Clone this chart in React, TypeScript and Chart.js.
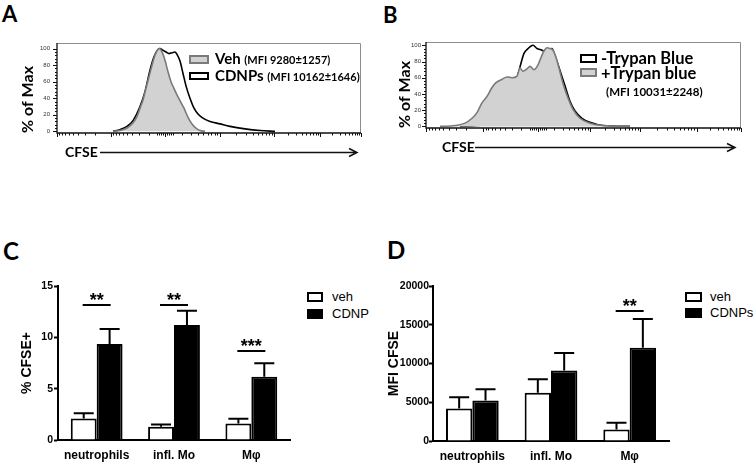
import React, { useEffect, useRef } from "react";
import { Chart, registerables } from "chart.js";
Chart.register(...registerables);

// ---------------- Panel A : CFSE histogram (x = channel from axis start) ----------------
const aVehX = [56, 63, 70, 76, 80, 83, 86, 89, 92, 95, 98, 101, 102.5, 105, 108, 111, 114, 117, 120, 123, 127, 131, 135, 139, 143, 148];
const aVehY = [0, 1, 4, 10, 18, 28, 38, 52, 66, 80, 92, 99, 100, 96, 86, 72, 60, 52, 44, 37, 28, 17, 9, 4, 1, 0];
const aCdnpX = [56, 63, 70, 76, 83, 88, 93, 97, 101, 103, 106, 109, 112, 115, 118, 120, 123, 126, 129, 133, 137, 141, 146, 153, 163, 173, 188, 203, 218];
const aCdnpY = [0, 2, 6, 13, 30, 48, 74, 90, 99, 100, 98, 96, 94, 95, 96, 93, 85, 70, 55, 40, 28, 21, 16, 12, 9, 6, 3, 1, 0];
const aDecades = [0, 54, 108, 163, 217, 263, 304];
const aZeroCluster = [100, 102, 104, 106, 110, 112, 114, 116];

// ---------------- Panel B : Trypan blue quench ----------------
const bPlusX = [14, 29, 39, 46, 51, 56, 61, 66, 70, 76, 81, 86, 91, 94, 97, 101, 104, 108, 112, 115, 118, 121, 124, 127, 130, 133, 137, 142, 147, 154, 164, 177, 204];
const bPlusY = [0, 1, 4, 10, 17, 29, 37, 48, 54, 58, 61, 60, 62, 72, 68, 71, 74, 70, 76, 85, 93, 97, 96, 94, 85, 72, 53, 35, 21, 10, 4, 1, 0];
const bMinusX = [34, 51, 61, 71, 77, 84, 91, 95, 98, 102, 107, 111, 116, 119, 122, 126, 129, 134, 139, 144, 149, 156, 164, 177, 204];
const bMinusY = [0, 1, 4, 15, 27, 44, 60, 78, 90, 96, 100, 96, 94, 92, 94, 96, 87, 69, 50, 31, 19, 10, 5, 1, 0];
const bDecades = [0, 57, 112, 164, 214, 271, 315];
const bZeroCluster = [104, 106, 108, 110, 114, 116, 118, 120];

const histYTicks = [0, 20, 40, 60, 80, 100];

// ---------------- Panel C : % CFSE+ ----------------
const cellTypes = ["neutrophils", "infl. Mo", "M\u03c6"];
const cVeh = [2.1, 1.3, 1.6];
const cVehSem = [0.5, 0.2, 0.48];
const cCdnp = [9.35, 11.2, 6.15];
const cCdnpSem = [1.45, 1.4, 1.33];
const cSigCat = [0, 1, 2];
const cSigY = [13.15, 13.15, 8.7];
const cSigLabel = ["**", "**", "***"];
const cYTicks = [0, 5, 10, 15];

// ---------------- Panel D : MFI CFSE ----------------
const dVeh = [4180, 6210, 1470];
const dVehSem = [1470, 1760, 900];
const dCdnp = [5220, 9100, 12030];
const dCdnpSem = [1460, 2240, 3700];
const dSigCat = [2];
const dSigY = [16810];
const dSigLabel = ["**"];
const dYTicks = [0, 5000, 10000, 15000, 20000];

const HFONT = "Lato, 'Open Sans', sans-serif";
const AFONT = "'Liberation Sans', Arial, sans-serif";

function minorTicks(decades: number[], zeroIdx: number) {
  const out: number[] = [];
  for (let i = 0; i < decades.length - 1; i++) {
    const a = decades[i], b = decades[i + 1];
    for (let k = 2; k <= 9; k++) {
      const f = Math.log10(k);
      out.push(i < zeroIdx ? b - (b - a) * f : a + (b - a) * f);
    }
  }
  return out;
}

type HistProps = {
  left: number; top: number; width: number; height: number;
  yWidth: number; padTop: number; padRight: number; xHeight: number;
  xMax: number; yMax: number;
  fillX: number[]; fillY: number[]; lineX: number[]; lineY: number[];
  decades: number[]; cluster: number[];
  tickPad: number; titlePad: number;
  cfseDx: number; arrowStartDx: number; arrowEndDx: number;
};

function Hist(p: HistProps) {
  const ref = useRef<HTMLCanvasElement>(null);
  useEffect(() => {
    const minors = minorTicks(p.decades, 2).concat(p.cluster);
    const plugin = {
      id: "histDecor",
      afterDraw(chart: any) {
        const { ctx, chartArea } = chart;
        const { left, right, top, bottom } = chartArea;
        const xs = chart.scales.x, ys = chart.scales.y;
        ctx.save();
        ctx.strokeStyle = "#8c8c8c";
        ctx.lineWidth = 1;
        ctx.beginPath();
        ctx.moveTo(left, top + 0.5); ctx.lineTo(right - 0.5, top + 0.5); ctx.lineTo(right - 0.5, bottom);
        ctx.stroke();
        ctx.strokeStyle = "#111";
        ctx.lineWidth = 1.3;
        ctx.beginPath();
        ctx.moveTo(left, top); ctx.lineTo(left, bottom); ctx.lineTo(right, bottom);
        ctx.stroke();
        ctx.lineWidth = 1;
        ctx.beginPath();
        for (let v = 0; v <= 100; v += 4) {
          const y = Math.round(ys.getPixelForValue(v)) + 0.5;
          const len = v % 20 === 0 ? 4 : 2;
          ctx.moveTo(left - len, y); ctx.lineTo(left, y);
        }
        p.decades.forEach((v) => {
          const x = Math.round(xs.getPixelForValue(v)) + 0.5;
          ctx.moveTo(x, bottom); ctx.lineTo(x, bottom + 4);
        });
        minors.forEach((v) => {
          const x = Math.round(xs.getPixelForValue(v)) + 0.5;
          ctx.moveTo(x, bottom); ctx.lineTo(x, bottom + 2.5);
        });
        ctx.stroke();
        // CFSE label with arrow
        const ly = bottom + 19.5;
        ctx.fillStyle = "#000";
        ctx.font = `bold 14px ${HFONT}`;
        ctx.textBaseline = "middle";
        ctx.textAlign = "left";
        ctx.fillText("CFSE", left + p.cfseDx, ly);
        const x1 = left + p.arrowStartDx, x2 = right + p.arrowEndDx;
        ctx.lineWidth = 1.5;
        ctx.beginPath();
        ctx.moveTo(x1, ly); ctx.lineTo(x2, ly);
        ctx.moveTo(x2 - 8, ly - 4); ctx.lineTo(x2, ly); ctx.lineTo(x2 - 8, ly + 4);
        ctx.stroke();
        ctx.restore();
      },
    };
    const chart = new Chart(ref.current!, {
      type: "line",
      data: {
        datasets: [
          {
            data: p.fillX.map((x, i) => ({ x, y: p.fillY[i] })),
            borderColor: "#7a7a7a",
            borderWidth: 1.6,
            backgroundColor: "#d2d2d2",
            fill: "origin",
            pointRadius: 0,
            cubicInterpolationMode: "monotone",
          },
          {
            data: p.lineX.map((x, i) => ({ x, y: p.lineY[i] })),
            borderColor: "#000",
            borderWidth: 1.6,
            fill: false,
            pointRadius: 0,
            cubicInterpolationMode: "monotone",
          },
        ],
      },
      options: {
        animation: false,
        responsive: false,
        layout: { padding: { left: 0, top: p.padTop, right: p.padRight, bottom: 0 } },
        plugins: { legend: { display: false }, tooltip: { enabled: false } },
        scales: {
          x: {
            type: "linear",
            min: 0,
            max: p.xMax,
            ticks: { display: false },
            grid: { display: false, drawTicks: false },
            border: { display: false },
            afterFit: (s: any) => { s.height = p.xHeight; },
          },
          y: {
            min: -2,
            max: p.yMax,
            afterBuildTicks: (s: any) => { s.ticks = histYTicks.map((v) => ({ value: v })); },
            ticks: { font: { size: 6, family: AFONT }, color: "#333", padding: p.tickPad },
            grid: { display: false, drawTicks: false },
            border: { display: false },
            title: {
              display: true,
              text: "% of Max",
              align: "start",
              color: "#000",
              font: { family: HFONT, weight: "bold", size: 16 },
              padding: { top: p.titlePad, bottom: 0 },
            },
            afterFit: (s: any) => { s.width = p.yWidth; },
          },
        },
      },
      plugins: [plugin],
    } as any);
    return () => chart.destroy();
  }, []);
  return (
    <canvas
      ref={ref}
      width={p.width}
      height={p.height}
      style={{ position: "absolute", left: p.left, top: p.top, width: p.width, height: p.height }}
    />
  );
}

type BarProps = {
  left: number; top: number; width: number; height: number;
  yWidth: number; padTop: number; padRight: number; xHeight: number;
  veh: number[]; vehSem: number[]; cdnp: number[]; cdnpSem: number[];
  yTicks: number[]; yTitle: string; titleSize: number; titlePad: number;
  sigCat: number[]; sigY: number[]; sigLabel: string[];
  vehLabel: string; cdnpLabel: string; tickPad: number;
};

function Bars(p: BarProps) {
  const ref = useRef<HTMLCanvasElement>(null);
  useEffect(() => {
    const sems = [p.vehSem, p.cdnpSem];
    const plugin = {
      id: "barExtras",
      afterDatasetsDraw(chart: any) {
        const { ctx } = chart;
        const ys = chart.scales.y, xs = chart.scales.x;
        ctx.save();
        ctx.strokeStyle = "#000";
        ctx.lineWidth = 2;
        chart.data.datasets.forEach((ds: any, di: number) => {
          const meta = chart.getDatasetMeta(di);
          meta.data.forEach((bar: any, i: number) => {
            const topY = ys.getPixelForValue(ds.data[i] + sems[di][i]);
            ctx.beginPath();
            ctx.moveTo(bar.x, bar.y);
            ctx.lineTo(bar.x, topY);
            ctx.moveTo(bar.x - 10, topY);
            ctx.lineTo(bar.x + 10, topY);
            ctx.stroke();
          });
        });
        ctx.fillStyle = "#000";
        ctx.font = `bold 18px ${AFONT}`;
        ctx.textAlign = "center";
        ctx.textBaseline = "alphabetic";
        p.sigCat.forEach((c, k) => {
          const cx = xs.getPixelForValue(c);
          const ly = Math.round(ys.getPixelForValue(p.sigY[k]));
          ctx.beginPath();
          ctx.moveTo(cx - 14, ly);
          ctx.lineTo(cx + 14, ly);
          ctx.stroke();
          ctx.fillText(p.sigLabel[k], cx, ly + 1);
        });
        ctx.restore();
      },
    };
    const chart = new Chart(ref.current!, {
      type: "bar",
      data: {
        labels: cellTypes,
        datasets: [
          { label: p.vehLabel, data: p.veh, backgroundColor: "#fff", borderColor: "#000", borderWidth: 2, categoryPercentage: 0.67, barPercentage: 1 },
          { label: p.cdnpLabel, data: p.cdnp, backgroundColor: "#000", borderColor: "#000", borderWidth: 2, categoryPercentage: 0.67, barPercentage: 1 },
        ],
      },
      options: {
        animation: false,
        responsive: false,
        layout: { padding: { left: 0, top: p.padTop, right: p.padRight, bottom: 0 } },
        plugins: { legend: { display: false }, tooltip: { enabled: false } },
        scales: {
          x: {
            grid: { display: false, drawTicks: false },
            border: { display: true, color: "#000", width: 2 },
            ticks: { font: { family: AFONT, weight: "bold", size: 12 }, color: "#000", padding: 8 },
            afterFit: (s: any) => { s.height = p.xHeight; },
          },
          y: {
            min: p.yTicks[0],
            max: p.yTicks[p.yTicks.length - 1],
            afterBuildTicks: (s: any) => { s.ticks = p.yTicks.map((v) => ({ value: v })); },
            ticks: {
              font: { family: AFONT, weight: "bold", size: 10.5 },
              color: "#000",
              padding: p.tickPad,
              callback: (v: any) => String(v),
            },
            grid: { display: true, drawOnChartArea: false, drawTicks: true, tickLength: 4, tickColor: "#000", tickWidth: 2 },
            border: { display: true, color: "#000", width: 2 },
            title: {
              display: true,
              text: p.yTitle,
              color: "#000",
              font: { family: AFONT, weight: "bold", size: p.titleSize },
              padding: { top: p.titlePad, bottom: 0 },
            },
            afterFit: (s: any) => { s.width = p.yWidth; },
          },
        },
      },
      plugins: [plugin],
    } as any);
    return () => chart.destroy();
  }, []);
  return (
    <canvas
      ref={ref}
      width={p.width}
      height={p.height}
      style={{ position: "absolute", left: p.left, top: p.top, width: p.width, height: p.height }}
    />
  );
}

const abs = (s: any) => ({ position: "absolute" as const, whiteSpace: "nowrap" as const, lineHeight: 1, ...s });

function Box({ x, y, w, h, fill, stroke }: any) {
  return <div style={{ position: "absolute", left: x, top: y, width: w - 4, height: h - 4, background: fill, border: `2px solid ${stroke}` }} />;
}

export default function App() {
  return (
    <div style={{ position: "fixed", left: 0, top: 0, width: 755, height: 464, background: "#fff", overflow: "hidden" }}>
      {/* panel letters */}
      <div style={abs({ left: 2, top: 3, fontFamily: HFONT, fontWeight: 700, fontSize: 22 })}>A</div>
      <div style={abs({ left: 383, top: 4, fontFamily: HFONT, fontWeight: 700, fontSize: 22 })}>B</div>
      <div style={abs({ left: 3, top: 239, fontFamily: HFONT, fontWeight: 700, fontSize: 24 })}>C</div>
      <div style={abs({ left: 387, top: 238, fontFamily: HFONT, fontWeight: 700, fontSize: 24 })}>D</div>

      <Hist left={0} top={0} width={375} height={165} yWidth={57} padTop={43} padRight={14} xHeight={32}
        xMax={304} yMax={106.8} fillX={aVehX} fillY={aVehY} lineX={aCdnpX} lineY={aCdnpY}
        decades={aDecades} cluster={aZeroCluster} tickPad={7} titlePad={18}
        cfseDx={8} arrowStartDx={43} arrowEndDx={-4} />
      <Hist left={380} top={0} width={375} height={165} yWidth={46} padTop={42} padRight={14} xHeight={37}
        xMax={315} yMax={104.1} fillX={bPlusX} fillY={bPlusY} lineX={bMinusX} lineY={bMinusY}
        decades={bDecades} cluster={bZeroCluster} tickPad={5} titlePad={15}
        cfseDx={16} arrowStartDx={49} arrowEndDx={-6} />

      {/* legend A */}
      <Box x={189} y={55} w={20} h={9} fill="#d2d2d2" stroke="#7a7a7a" />
      <div style={abs({ left: 215, top: 51, fontFamily: HFONT, fontWeight: 700, fontSize: 15 })}>
        Veh <span style={{ fontSize: 11 }}>(MFI 9280±1257)</span>
      </div>
      <Box x={189} y={72} w={20} h={8} fill="#fff" stroke="#000" />
      <div style={abs({ left: 215, top: 68, fontFamily: HFONT, fontWeight: 700, fontSize: 15 })}>
        CDNPs <span style={{ fontSize: 11 }}>(MFI 10162±1646)</span>
      </div>

      {/* legend B */}
      <Box x={580} y={54} w={17} h={9} fill="#fff" stroke="#000" />
      <div style={abs({ left: 601, top: 50, fontFamily: HFONT, fontWeight: 700, fontSize: 16.5 })}>-Trypan Blue</div>
      <Box x={580} y={68} w={17} h={9} fill="#d2d2d2" stroke="#7a7a7a" />
      <div style={abs({ left: 601, top: 65, fontFamily: HFONT, fontWeight: 700, fontSize: 16.5 })}>+Trypan blue</div>
      <div style={abs({ left: 606, top: 86, fontFamily: HFONT, fontWeight: 700, fontSize: 11.5 })}>(MFI 10031±2248)</div>

      <Bars left={0} top={270} width={300} height={194} yWidth={58} padTop={16} padRight={10} xHeight={24}
        veh={cVeh} vehSem={cVehSem} cdnp={cCdnp} cdnpSem={cCdnpSem} yTicks={cYTicks}
        yTitle="% CFSE+" titleSize={14} titlePad={19} tickPad={1}
        sigCat={cSigCat} sigY={cSigY} sigLabel={cSigLabel} vehLabel="veh" cdnpLabel="CDNP" />
      <Bars left={380} top={270} width={300} height={194} yWidth={53} padTop={16} padRight={11} xHeight={23}
        veh={dVeh} vehSem={dVehSem} cdnp={dCdnp} cdnpSem={dCdnpSem} yTicks={dYTicks}
        yTitle="MFI CFSE" titleSize={14} titlePad={6} tickPad={0}
        sigCat={dSigCat} sigY={dSigY} sigLabel={dSigLabel} vehLabel="veh" cdnpLabel="CDNPs" />

      {/* legend C */}
      <Box x={307} y={292} w={16} h={10} fill="#fff" stroke="#000" />
      <div style={abs({ left: 332, top: 290, fontFamily: AFONT, fontSize: 13 })}>veh</div>
      <Box x={307} y={309} w={16} h={10} fill="#000" stroke="#000" />
      <div style={abs({ left: 332, top: 307, fontFamily: AFONT, fontSize: 13 })}>CDNP</div>

      {/* legend D */}
      <Box x={685} y={292} w={17} h={10} fill="#fff" stroke="#000" />
      <div style={abs({ left: 710, top: 290, fontFamily: AFONT, fontSize: 13 })}>veh</div>
      <Box x={685} y={308} w={17} h={10} fill="#000" stroke="#000" />
      <div style={abs({ left: 710, top: 306, fontFamily: AFONT, fontSize: 13 })}>CDNPs</div>
    </div>
  );
}
